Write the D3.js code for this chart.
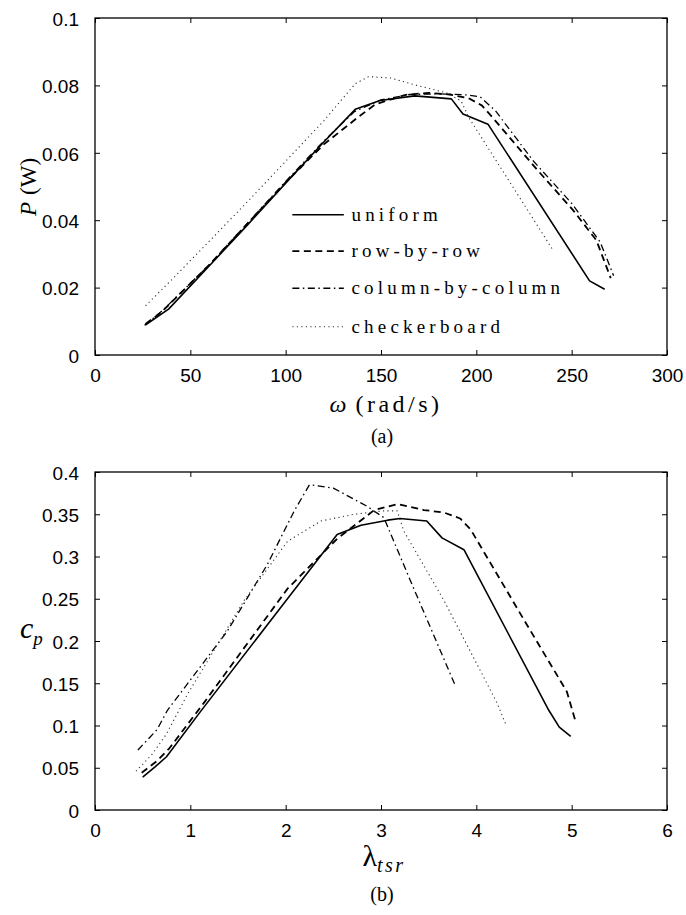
<!DOCTYPE html>
<html>
<head>
<meta charset="utf-8">
<script src="https://cdn.jsdelivr.net/npm/d3@7"></script>
<style>
  body { margin: 0; background: #fff; }
  svg { display: block; }
</style>
</head>
<body>
<svg id="fig" width="686" height="915"></svg>
<script>
// ---- Panel (a): power P (W) against rotor speed omega (rad/s) ----
const powerUniform = [[26.4,0.0089],[38.6,0.0136],[60,0.0265],[80,0.0386],[100,0.0510],[120,0.0632],[136.5,0.0729],[149.5,0.0755],[167.7,0.0769],[186.9,0.0760],[193,0.0715],[206.1,0.0685],[259.4,0.0220],[267.3,0.0195]];
const powerRow = [[26.5,0.0092],[35,0.0128],[60,0.0268],[100,0.0512],[120,0.0625],[137.4,0.0703],[147,0.0744],[163,0.0772],[175,0.0778],[186,0.0773],[196,0.0762],[203,0.0740],[210,0.0695],[230.6,0.0558],[250.7,0.0430],[263,0.0340],[270.5,0.0228]];
const powerColumn = [[26,0.0088],[36,0.0135],[60,0.0268],[100,0.0515],[120,0.0635],[136,0.0722],[150,0.0757],[165,0.0773],[180,0.0775],[195,0.0772],[202,0.0766],[210,0.0725],[230,0.0575],[250,0.0450],[265,0.0335],[272,0.0235]];
const powerChecker = [[26.5,0.0146],[40,0.0222],[60,0.0338],[80,0.0455],[100,0.0575],[120,0.0695],[136.5,0.0805],[143.5,0.0826],[155,0.0822],[166.8,0.0803],[184.3,0.0778],[192,0.0754],[196,0.0705],[240,0.0313]];

const omegaTicks = [0, 50, 100, 150, 200, 250, 300];
const powerTicks = [0, 0.02, 0.04, 0.06, 0.08, 0.1];

// ---- Panel (b): power coefficient c_p against tip speed ratio ----
const cpUniform = [[0.5,0.039],[0.63,0.051],[0.75,0.063],[1.11,0.117],[1.95,0.240],[2.54,0.326],[2.79,0.337],[3.07,0.343],[3.2,0.345],[3.48,0.342],[3.64,0.322],[3.87,0.308],[4.76,0.118],[4.87,0.098],[4.99,0.087]];
const cpRow = [[0.49,0.044],[0.65,0.058],[0.78,0.073],[1.15,0.128],[2.02,0.262],[2.54,0.321],[2.93,0.355],[3.17,0.362],[3.45,0.355],[3.66,0.352],[3.83,0.345],[3.94,0.332],[4.5,0.225],[4.95,0.140],[5.04,0.105]];
const cpColumn = [[0.45,0.071],[0.65,0.095],[0.76,0.118],[1.39,0.212],[1.81,0.291],[2.09,0.354],[2.25,0.385],[2.5,0.381],[2.86,0.359],[3.03,0.346],[3.31,0.271],[3.78,0.147]];
const cpChecker = [[0.43,0.046],[0.6,0.066],[0.75,0.090],[0.97,0.137],[1.565,0.248],[2.02,0.318],[2.37,0.342],[2.72,0.350],[3.03,0.354],[3.17,0.354],[3.24,0.330],[3.66,0.248],[4.22,0.126],[4.31,0.101]];

const tsrTicks = [0, 1, 2, 3, 4, 5, 6];
const cpTicks = [0, 0.05, 0.1, 0.15, 0.2, 0.25, 0.3, 0.35, 0.4];

const legendLabels = ["uniform", "row-by-row", "column-by-column", "checkerboard"];

// line styles shared by both panels (uniform, row, column, checker)
const styles = [
  { dash: null,            width: 1.6, color: "#000" },
  { dash: "7,4.5",         width: 1.8, color: "#000" },
  { dash: "7,3.5,1.5,3.5", width: 1.3, color: "#000" },
  { dash: "1.2,3.3",       width: 1.1, color: "#333" }
];

const SERIF = "'Liberation Serif', 'DejaVu Serif', serif";
const SANS = "'Liberation Sans', Arial, sans-serif";
const TICK_FONT = 19;
const svg = d3.select("#fig");

function panel(cfg) {
  const x = d3.scaleLinear().domain(cfg.xDomain).range([cfg.left, cfg.right]);
  const y = d3.scaleLinear().domain(cfg.yDomain).range([cfg.bottom, cfg.top]);
  const g = svg.append("g");

  // series
  const line = d3.line().x(d => x(d[0])).y(d => y(d[1]));
  cfg.series.forEach((s, i) => {
    const st = styles[i];
    g.append("path").datum(s)
      .attr("d", line)
      .attr("fill", "none")
      .attr("stroke", st.color)
      .attr("stroke-width", st.width)
      .attr("stroke-dasharray", st.dash)
      .attr("stroke-linejoin", "round");
  });

  const tl = 5;
  // labelled bottom/left axes, unlabelled top/right axes; all ticks point inward
  const xb = g.append("g").attr("transform", `translate(0,${cfg.bottom})`)
    .call(d3.axisBottom(x).tickValues(cfg.xTicks).tickFormat(d3.format("~g")).tickSizeInner(-tl).tickSizeOuter(0).tickPadding(14));
  const xt = g.append("g").attr("transform", `translate(0,${cfg.top})`)
    .call(d3.axisTop(x).tickValues(cfg.xTicks).tickFormat("").tickSizeInner(-tl).tickSizeOuter(0));
  const yl = g.append("g").attr("transform", `translate(${cfg.left},0)`)
    .call(d3.axisLeft(y).tickValues(cfg.yTicks).tickFormat(d3.format("~g")).tickSizeInner(-tl).tickSizeOuter(0).tickPadding(16));
  const yr = g.append("g").attr("transform", `translate(${cfg.right},0)`)
    .call(d3.axisRight(y).tickValues(cfg.yTicks).tickFormat("").tickSizeInner(-tl).tickSizeOuter(0));
  [xb, xt, yl, yr].forEach(a => {
    a.attr("font-family", SANS).attr("font-size", TICK_FONT);
    a.select(".domain").remove();
    a.selectAll(".tick line").attr("stroke", "#000").attr("stroke-width", 1);
    a.selectAll(".tick text").attr("fill", "#000");
  });
  yl.selectAll(".tick text").attr("dy", "0.38em");

  // frame
  g.append("rect")
    .attr("x", cfg.left).attr("y", cfg.top)
    .attr("width", cfg.right - cfg.left).attr("height", cfg.bottom - cfg.top)
    .attr("fill", "none").attr("stroke", "#000").attr("stroke-width", 1.3);

  return { x, y, g };
}

// ---------- panel (a) ----------
const A = panel({
  left: 95, right: 667, top: 18, bottom: 355,
  xDomain: [0, 300], yDomain: [0, 0.1],
  xTicks: omegaTicks, yTicks: powerTicks,
  series: [powerUniform, powerRow, powerColumn, powerChecker]
});

// legend inside panel (a)
const legY = [0.0416, 0.0308, 0.0198, 0.0084];
legendLabels.forEach((lab, i) => {
  const st = styles[i];
  const yy = A.y(legY[i]);
  A.g.append("line")
    .attr("x1", A.x(103.5)).attr("x2", A.x(130.5))
    .attr("y1", yy).attr("y2", yy)
    .attr("stroke", st.color).attr("stroke-width", st.width)
    .attr("stroke-dasharray", st.dash);
  A.g.append("text")
    .attr("x", A.x(134.5)).attr("y", yy)
    .attr("dy", "0.32em")
    .attr("font-family", SERIF)
    .attr("font-size", 19)
    .attr("letter-spacing", "4.2px")
    .text(lab);
});

// axis titles for (a)
svg.append("text")
  .attr("transform", "translate(36,187) rotate(-90)")
  .attr("text-anchor", "middle")
  .attr("font-family", SERIF).attr("font-size", 23)
  .call(t => {
    t.append("tspan").attr("font-style", "italic").text("P");
    t.append("tspan").attr("dx", 7).text("(W)");
  });
svg.append("text")
  .attr("x", 386).attr("y", 412)
  .attr("text-anchor", "middle")
  .attr("font-family", SERIF).attr("font-size", 24)
  .call(t => {
    t.append("tspan").attr("font-style", "italic").text("ω");
    t.append("tspan").attr("dx", 9).attr("letter-spacing", "3.5px").text("(rad/s)");
  });
svg.append("text")
  .attr("x", 382).attr("y", 443)
  .attr("text-anchor", "middle")
  .attr("font-family", SERIF).attr("font-size", 20)
  .text("(a)");

// ---------- panel (b) ----------
panel({
  left: 95, right: 667, top: 472, bottom: 810,
  xDomain: [0, 6], yDomain: [0, 0.4],
  xTicks: tsrTicks, yTicks: cpTicks,
  series: [cpUniform, cpRow, cpColumn, cpChecker]
});

svg.append("text")
  .attr("x", 20).attr("y", 638)
  .attr("font-family", SERIF).attr("font-size", 30)
  .attr("font-style", "italic")
  .call(t => {
    t.append("tspan").text("c");
    t.append("tspan").attr("font-size", 19).attr("dy", 7).text("p");
  });
svg.append("text")
  .attr("x", 384).attr("y", 866)
  .attr("text-anchor", "middle")
  .attr("font-family", SERIF).attr("font-size", 30)
  .call(t => {
    t.append("tspan").text("λ");
    t.append("tspan").attr("font-size", 20).attr("font-style", "italic").attr("dy", 6).attr("letter-spacing", "2.5px").text("tsr");
  });
svg.append("text")
  .attr("x", 382).attr("y", 901)
  .attr("text-anchor", "middle")
  .attr("font-family", SERIF).attr("font-size", 20)
  .text("(b)");
</script>
</body>
</html>
